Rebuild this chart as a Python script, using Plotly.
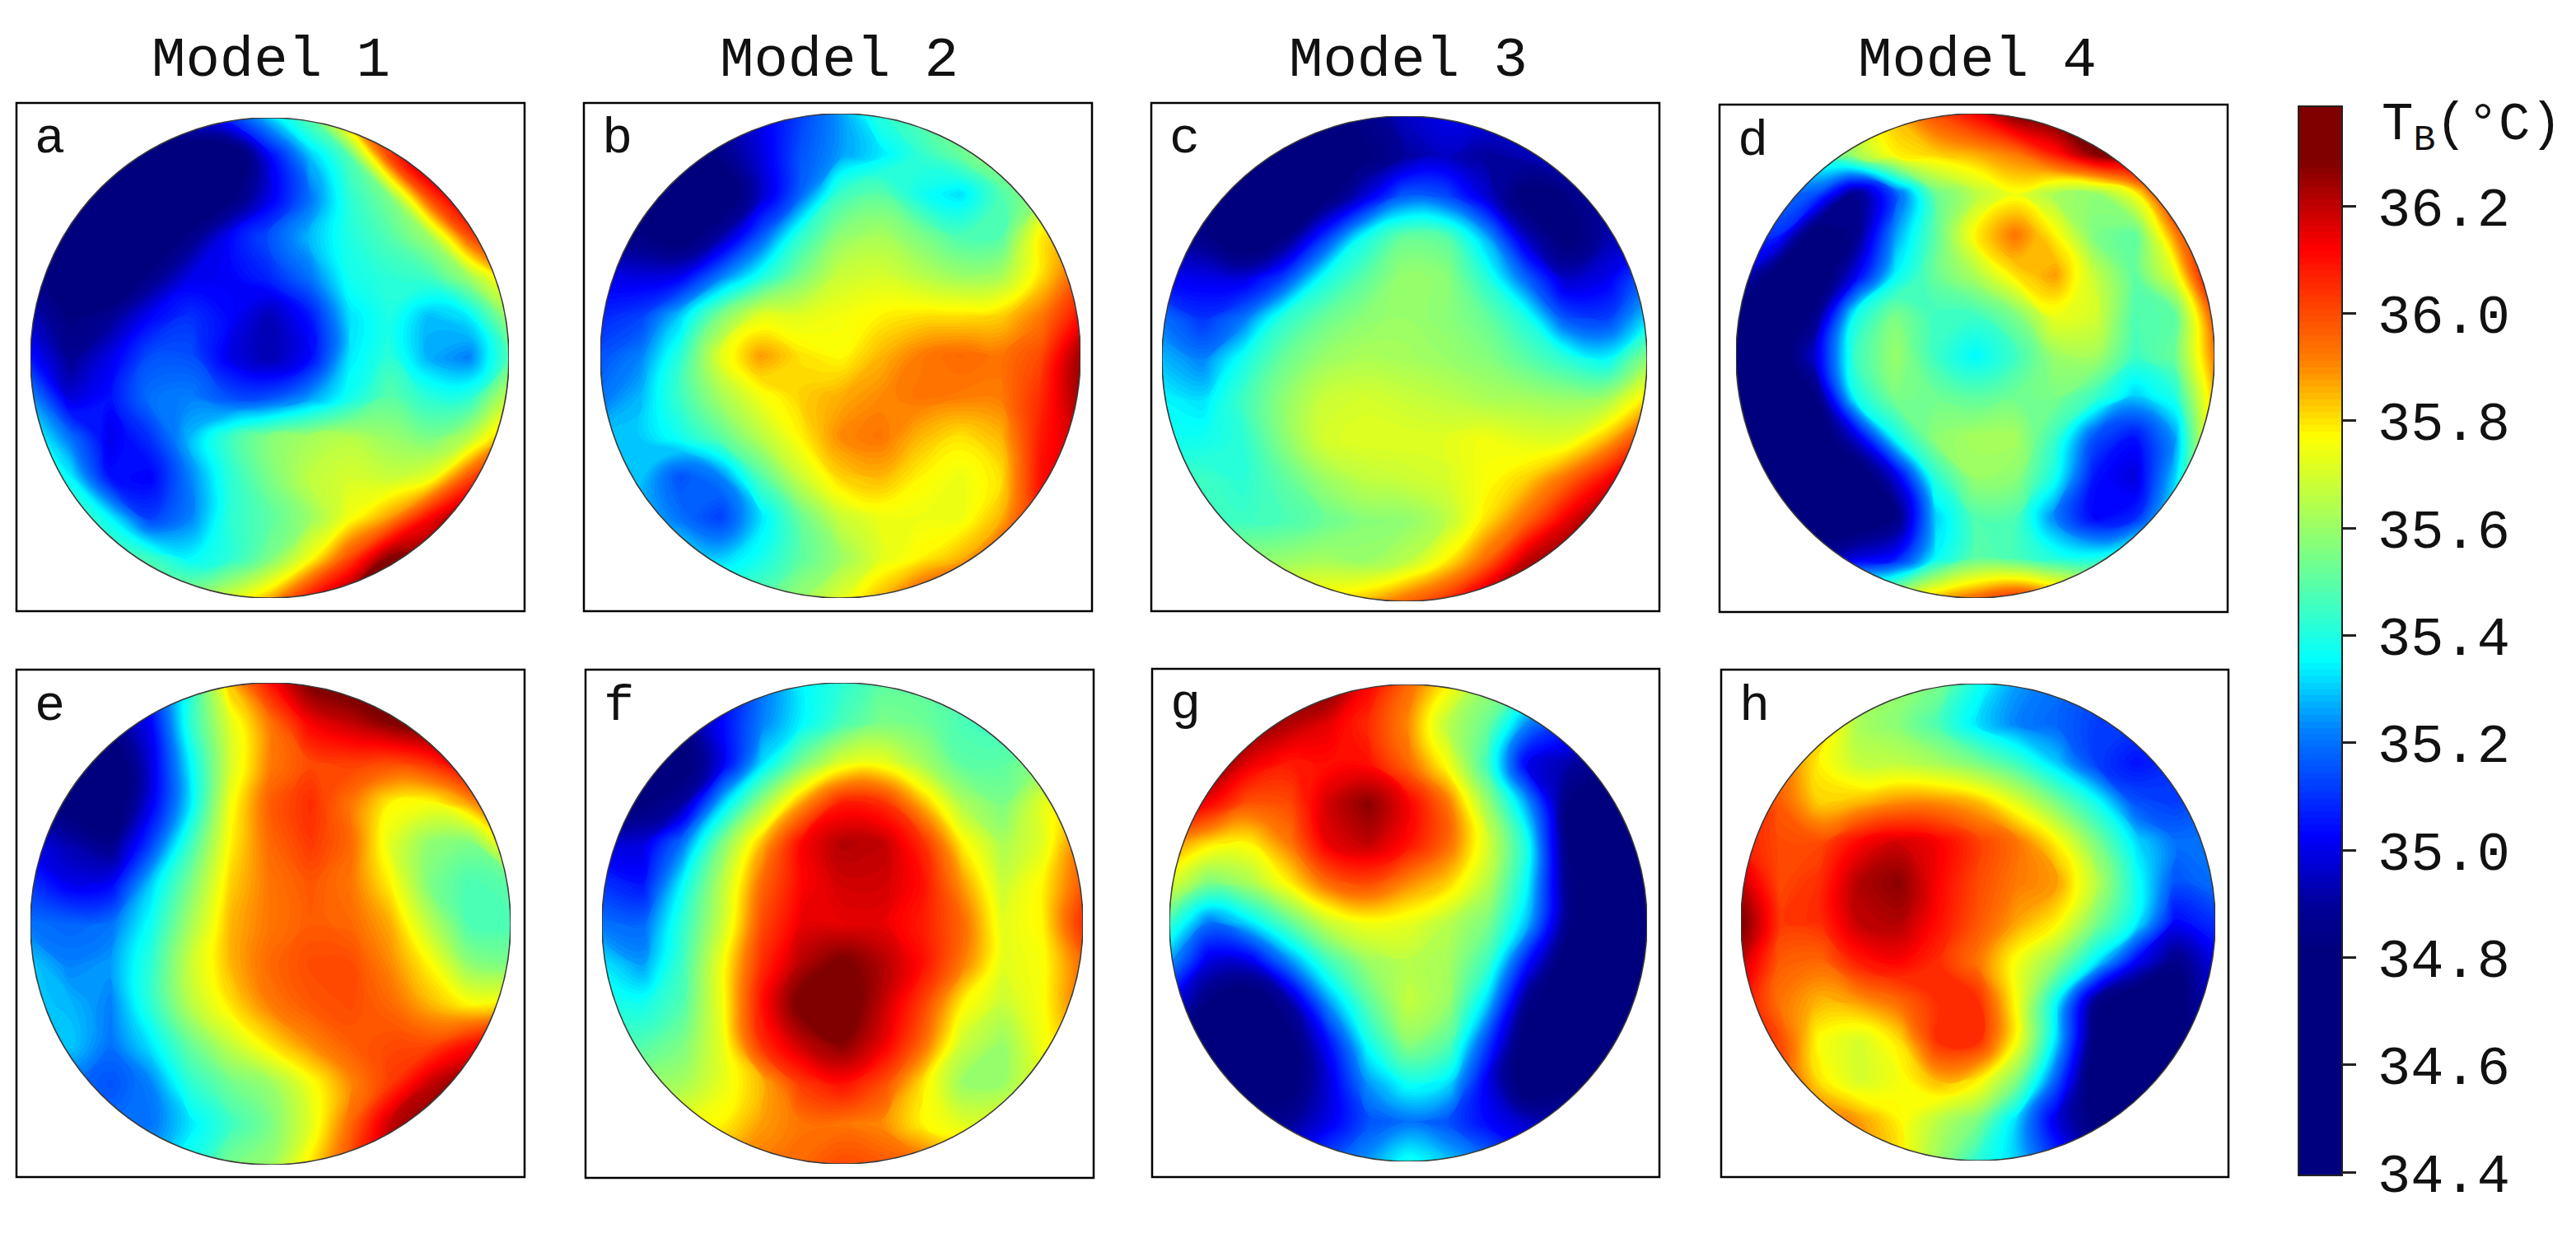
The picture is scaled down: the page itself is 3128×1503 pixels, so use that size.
import numpy as np
import plotly.graph_objects as go

W, H = 3128, 1503
MONO = "Liberation Mono, DejaVu Sans Mono, monospace"

panel_a = [
    [34.9,34.9,34.9,34.9,35.0,35.1,35.3,35.5,35.9,36.1,36.2,36.2,36.2],
    [34.7,34.7,34.7,34.75,34.7,34.7,35.02,35.28,35.48,36.0,36.3,36.3,36.3],
    [34.7,34.7,34.7,34.7,34.7,34.8,35.0,35.2,35.42,35.55,36.0,36.25,36.3],
    [34.75,34.8,34.7,34.7,34.85,35.03,35.15,35.28,35.4,35.48,35.6,35.98,36.2],
    [34.85,34.75,34.7,34.85,35.0,35.02,35.08,35.2,35.38,35.42,35.45,35.6,35.85],
    [34.95,34.82,34.88,35.03,35.1,35.03,34.93,35.05,35.32,35.4,35.28,35.33,35.6],
    [35.05,34.88,35.0,35.15,35.15,35.0,34.92,35.03,35.33,35.42,35.27,35.22,35.48],
    [35.25,34.98,35.05,35.2,35.22,35.15,35.15,35.25,35.38,35.5,35.42,35.42,35.68],
    [35.4,35.2,35.0,35.1,35.28,35.45,35.57,35.62,35.65,35.6,35.55,35.65,35.9],
    [35.5,35.35,35.05,35.02,35.22,35.42,35.55,35.66,35.7,35.68,35.73,36.0,36.2],
    [35.5,35.5,35.35,35.12,35.22,35.42,35.5,35.6,35.75,35.88,36.12,36.3,36.3],
    [35.5,35.5,35.5,35.45,35.35,35.42,35.55,35.75,36.0,36.28,36.3,36.3,36.3],
    [35.6,35.6,35.6,35.6,35.6,35.7,35.85,36.1,36.3,36.3,36.3,36.3,36.3],
]
panel_b = [
    [34.9,34.9,34.9,34.9,35.0,35.12,35.25,35.42,35.5,35.55,35.6,35.7,35.8],
    [34.8,34.8,34.8,34.85,34.98,35.15,35.25,35.33,35.43,35.52,35.6,35.7,35.8],
    [34.8,34.8,34.75,34.72,34.95,35.18,35.45,35.5,35.38,35.32,35.48,35.6,35.75],
    [34.85,34.82,34.75,34.9,35.15,35.42,35.58,35.62,35.55,35.47,35.48,35.78,35.9],
    [35.0,34.98,35.0,35.2,35.38,35.55,35.68,35.7,35.65,35.6,35.62,35.8,35.98],
    [35.08,35.12,35.3,35.55,35.72,35.72,35.75,35.78,35.8,35.8,35.82,35.92,36.1],
    [35.15,35.22,35.42,35.72,35.88,35.8,35.77,35.85,35.92,35.95,35.93,36.0,36.25],
    [35.2,35.28,35.45,35.62,35.75,35.82,35.86,35.9,35.93,35.92,35.92,36.05,36.25],
    [35.3,35.3,35.38,35.5,35.65,35.78,35.9,35.93,35.85,35.8,35.85,36.08,36.2],
    [35.3,35.3,35.15,35.22,35.48,35.68,35.82,35.85,35.78,35.74,35.8,36.1,36.2],
    [35.3,35.3,35.2,35.12,35.32,35.52,35.68,35.74,35.74,35.74,35.85,36.1,36.2],
    [35.35,35.35,35.35,35.3,35.38,35.5,35.6,35.72,35.78,35.85,36.0,36.1,36.2],
    [35.5,35.5,35.5,35.5,35.5,35.6,35.72,35.85,36.0,36.1,36.15,36.2,36.2],
]
panel_c = [
    [34.8,34.8,34.8,34.8,34.8,34.85,34.95,35.0,35.0,35.0,35.0,35.0,35.0],
    [34.8,34.8,34.8,34.78,34.72,34.8,34.9,34.95,34.9,34.93,35.0,35.0,35.0],
    [34.8,34.78,34.75,34.72,34.78,34.98,35.18,35.15,34.98,34.78,34.82,34.95,35.0],
    [34.9,34.85,34.72,34.82,35.1,35.38,35.52,35.5,35.28,34.95,34.78,34.92,35.02],
    [35.02,35.0,34.98,35.12,35.38,35.5,35.6,35.58,35.42,35.18,34.95,35.0,35.18],
    [35.2,35.1,35.2,35.42,35.52,35.58,35.6,35.58,35.52,35.4,35.15,35.12,35.32],
    [35.28,35.22,35.38,35.52,35.6,35.63,35.62,35.6,35.57,35.5,35.42,35.35,35.58],
    [35.35,35.32,35.45,35.58,35.68,35.7,35.68,35.66,35.63,35.62,35.6,35.62,35.8],
    [35.38,35.38,35.42,35.57,35.7,35.72,35.72,35.72,35.75,35.72,35.72,35.85,36.05],
    [35.45,35.45,35.42,35.5,35.6,35.66,35.68,35.7,35.76,35.82,35.95,36.12,36.25],
    [35.45,35.45,35.45,35.47,35.52,35.57,35.58,35.65,35.8,35.95,36.15,36.3,36.3],
    [35.6,35.6,35.6,35.6,35.62,35.6,35.65,35.78,35.95,36.2,36.3,36.3,36.3],
    [35.8,35.8,35.8,35.8,35.8,35.85,35.95,36.05,36.25,36.3,36.3,36.3,36.3],
]
panel_d = [
    [35.5,35.5,35.5,35.7,35.85,36.0,36.12,36.3,36.35,36.35,36.35,36.35,36.35],
    [35.4,35.4,35.45,35.62,35.78,35.82,35.86,35.92,36.08,36.28,36.35,36.35,36.35],
    [35.2,35.2,35.15,34.85,35.15,35.52,35.65,35.75,35.62,35.58,35.75,36.15,36.3],
    [35.1,35.1,34.75,34.85,35.25,35.5,35.78,35.93,35.78,35.55,35.5,35.9,36.2],
    [35.0,34.78,34.72,35.0,35.35,35.52,35.63,35.8,35.88,35.67,35.5,35.72,36.2],
    [34.8,34.72,34.85,35.38,35.55,35.45,35.45,35.55,35.74,35.7,35.48,35.5,36.0],
    [34.72,34.72,34.98,35.45,35.6,35.45,35.35,35.45,35.6,35.62,35.45,35.52,35.92],
    [34.72,34.72,34.82,35.38,35.55,35.53,35.5,35.53,35.55,35.45,35.3,35.4,35.85],
    [34.72,34.72,34.72,34.98,35.38,35.58,35.62,35.62,35.45,35.15,35.05,35.25,35.85],
    [34.72,34.72,34.72,34.72,34.98,35.42,35.6,35.58,35.38,35.05,34.98,35.3,35.85],
    [34.72,34.72,34.72,34.72,34.82,35.3,35.48,35.48,35.22,35.02,35.08,35.4,35.85],
    [34.9,34.9,34.9,34.98,35.05,35.35,35.5,35.47,35.4,35.38,35.5,35.7,35.9],
    [35.5,35.5,35.5,35.6,35.7,35.85,35.95,36.05,35.95,35.85,35.8,35.8,35.9],
]
panel_e = [
    [34.8,34.8,34.9,35.1,35.4,35.85,36.1,36.3,36.35,36.35,36.35,36.35,36.35],
    [34.8,34.8,34.85,35.02,35.42,35.72,35.93,36.13,36.2,36.28,36.35,36.35,36.35],
    [34.8,34.8,34.72,34.98,35.35,35.7,35.92,36.0,36.02,36.0,36.05,36.2,36.3],
    [34.85,34.78,34.72,35.0,35.33,35.75,35.97,36.05,35.93,35.78,35.76,35.88,36.1],
    [35.0,34.92,34.85,35.12,35.45,35.78,35.95,36.03,35.95,35.72,35.58,35.55,35.82],
    [35.1,35.0,35.02,35.3,35.55,35.82,35.93,35.98,35.93,35.78,35.55,35.47,35.5],
    [35.2,35.18,35.2,35.37,35.62,35.85,35.93,35.97,35.95,35.86,35.65,35.47,35.47],
    [35.3,35.22,35.25,35.42,35.68,35.85,35.95,36.0,36.0,35.9,35.77,35.58,35.55],
    [35.3,35.28,35.22,35.42,35.65,35.8,35.92,35.98,36.0,35.95,35.85,35.77,35.8],
    [35.3,35.3,35.2,35.33,35.52,35.67,35.8,35.9,35.97,36.0,36.0,36.1,36.2],
    [35.2,35.2,35.15,35.22,35.42,35.53,35.6,35.75,35.9,36.03,36.2,36.3,36.3],
    [35.2,35.2,35.2,35.2,35.33,35.45,35.55,35.72,35.95,36.2,36.3,36.3,36.3],
    [35.3,35.3,35.3,35.3,35.4,35.55,35.6,35.8,36.0,36.2,36.3,36.3,36.3],
]
panel_f = [
    [34.9,34.9,34.9,35.0,35.2,35.35,35.42,35.5,35.5,35.5,35.5,35.5,35.6],
    [34.8,34.8,34.85,35.03,35.22,35.35,35.47,35.55,35.53,35.47,35.45,35.5,35.6],
    [34.8,34.78,34.76,35.0,35.32,35.55,35.72,35.74,35.62,35.5,35.5,35.58,35.7],
    [34.82,34.8,34.9,35.3,35.6,35.88,36.08,36.05,35.85,35.63,35.55,35.72,35.85],
    [34.98,34.98,35.2,35.55,35.85,36.12,36.22,36.2,36.05,35.78,35.63,35.72,35.95],
    [35.1,35.05,35.35,35.65,35.95,36.12,36.18,36.18,36.1,35.88,35.68,35.78,35.98],
    [35.2,35.18,35.42,35.68,36.0,36.15,36.15,36.15,36.08,35.95,35.72,35.78,36.05],
    [35.33,35.25,35.45,35.75,36.05,36.22,36.3,36.22,36.1,35.92,35.72,35.76,35.95],
    [35.4,35.38,35.48,35.75,36.1,36.32,36.35,36.2,36.02,35.78,35.68,35.76,35.95],
    [35.5,35.48,35.55,35.73,36.05,36.2,36.28,36.15,35.95,35.68,35.6,35.75,35.9],
    [35.6,35.6,35.62,35.73,35.85,36.03,36.1,36.0,35.8,35.6,35.6,35.75,35.9],
    [35.75,35.75,35.75,35.78,35.88,35.93,35.93,35.9,35.78,35.72,35.75,35.85,35.9],
    [35.9,35.9,35.9,35.9,35.92,35.95,36.0,35.98,35.95,35.9,35.9,35.9,35.9],
]
panel_g = [
    [36.3,36.3,36.3,36.3,36.3,36.12,35.95,35.78,35.6,35.5,35.4,35.3,35.2],
    [36.3,36.3,36.3,36.22,36.15,36.05,35.9,35.65,35.52,35.22,35.1,35.0,35.0],
    [36.3,36.3,36.15,36.08,36.1,36.1,35.95,35.75,35.45,35.0,34.92,34.85,34.8],
    [36.2,36.12,35.98,36.0,36.18,36.27,36.13,35.93,35.6,35.25,34.82,34.72,34.72],
    [35.9,35.8,35.78,35.92,36.15,36.2,36.1,35.95,35.7,35.38,34.82,34.72,34.72],
    [35.72,35.55,35.62,35.78,35.95,36.0,35.9,35.82,35.65,35.35,34.85,34.72,34.72],
    [35.45,35.2,35.32,35.5,35.68,35.75,35.73,35.65,35.55,35.28,34.85,34.72,34.72],
    [35.25,34.98,34.98,35.22,35.45,35.6,35.65,35.62,35.45,35.05,34.75,34.72,34.72],
    [35.02,34.82,34.72,34.9,35.25,35.5,35.67,35.6,35.3,34.85,34.72,34.72,34.72],
    [34.85,34.8,34.72,34.78,35.05,35.38,35.58,35.5,35.12,34.75,34.72,34.8,34.8],
    [34.85,34.8,34.75,34.78,34.98,35.25,35.38,35.33,35.0,34.75,34.78,34.85,34.85],
    [34.9,34.9,34.88,34.88,35.0,35.15,35.2,35.15,35.03,34.95,34.95,34.95,34.95],
    [35.0,35.0,35.0,35.05,35.15,35.25,35.38,35.3,35.2,35.1,35.05,35.0,35.0],
]
panel_h = [
    [35.9,35.9,35.8,35.7,35.6,35.55,35.38,35.25,35.2,35.15,35.1,35.1,35.1],
    [35.9,35.9,35.85,35.62,35.57,35.47,35.32,35.22,35.18,35.12,35.12,35.12,35.12],
    [36.0,35.95,35.78,35.67,35.66,35.62,35.55,35.45,35.3,35.12,35.05,35.1,35.15],
    [36.1,35.97,35.82,35.85,35.9,35.9,35.85,35.72,35.55,35.38,35.15,35.12,35.18],
    [36.08,36.0,36.0,36.12,36.18,36.13,36.02,35.93,35.78,35.55,35.32,35.2,35.2],
    [36.2,36.0,36.05,36.22,36.27,36.12,36.0,35.92,35.88,35.65,35.38,35.15,35.2],
    [36.3,36.03,36.05,36.2,36.22,36.1,35.98,35.87,35.78,35.55,35.35,35.03,35.1],
    [36.2,35.97,35.95,36.08,36.12,36.05,35.93,35.75,35.58,35.33,35.02,34.85,35.0],
    [36.12,35.93,35.85,35.88,35.95,36.05,36.05,35.75,35.35,34.85,34.72,34.75,35.0],
    [36.1,36.0,35.76,35.7,35.8,36.05,36.05,35.75,35.3,34.78,34.72,34.75,35.0],
    [36.0,36.0,35.8,35.7,35.75,35.85,35.78,35.55,35.15,34.72,34.72,34.75,35.0],
    [35.95,35.95,35.95,35.88,35.78,35.65,35.55,35.3,34.98,34.8,34.8,34.85,35.0],
    [35.9,35.9,35.9,35.9,35.8,35.6,35.42,35.3,35.1,34.95,34.9,34.9,35.0],
]

letters = ["a", "b", "c", "d", "e", "f", "g", "h"]
panels = [panel_a, panel_b, panel_c, panel_d, panel_e, panel_f, panel_g, panel_h]
models = ["Model 1", "Model 2", "Model 3", "Model 4"]
model_x = [329, 1019, 1710, 2401]

# frame (x0, x1, y0, y1) and disc bounds in pixels
boxes = [
    (20, 637, 125, 742), (709, 1326, 125, 742), (1398, 2015, 125, 742), (2088, 2705, 127, 743),
    (20, 637, 813, 1429), (711, 1328, 813, 1430), (1399, 2015, 812, 1429), (2090, 2706, 813, 1429),
]
discs = [
    (37, 618, 143, 726), (729, 1312, 138, 726), (1411, 2000, 141, 730), (2108, 2689, 138, 726),
    (37, 620, 829, 1414), (731, 1315, 829, 1413), (1420, 2000, 831, 1410), (2114, 2690, 830, 1409),
]

grid = [-1, -5/6, -4/6, -3/6, -2/6, -1/6, 0, 1/6, 2/6, 3/6, 4/6, 5/6, 1]

cmin, cmax = 34.4, 36.384
color_vals = [34.4, 34.82, 34.9, 35.03, 35.225, 35.355, 35.56, 35.77, 35.91, 36.12, 36.28, 36.384]
color_hex = ["#00007f", "#00007f", "#000098", "#0000ff", "#0080ff", "#00ffff", "#80ff80",
             "#ffff00", "#ff8000", "#ff0000", "#800000", "#800000"]
colorscale = [[(v - cmin) / (cmax - cmin), c] for v, c in zip(color_vals, color_hex)]

ticks = [34.4, 34.6, 34.8, 35.0, 35.2, 35.4, 35.6, 35.8, 36.0, 36.2]
# small lead-in space, the labels sit a bit off the tick marks
tick_text = [f'<span style="font-size:22px">&nbsp;</span>{v:.1f}' for v in ticks]

fig = go.Figure()
shapes, annotations = [], []

# white mask with a round hole, so only the disc of each map shows
t = np.linspace(0, 2 * np.pi, 361)
hole = " ".join(f"L{np.cos(a):.4f},{np.sin(a):.4f}" for a in t)
mask = "M-1.1,-1.1 L1.1,-1.1 L1.1,1.1 L-1.1,1.1 Z M1,0 " + hole + " Z"

layout_axes = {}
for i, (z, letter, box, disc) in enumerate(zip(panels, letters, boxes, discs)):
    n = i + 1
    xname = "x" if n == 1 else f"x{n}"
    yname = "y" if n == 1 else f"y{n}"
    # smoothed filled contours, the maps are smooth in the reference
    fig.add_trace(go.Contour(
        z=z, x=grid, y=grid[::-1], coloraxis="coloraxis",
        autocontour=False,
        contours=dict(start=cmin, end=cmax, size=0.012, coloring="fill", showlines=False),
        line=dict(width=0, smoothing=1.3),
        xaxis=xname, yaxis=yname,
        hovertemplate="%{z:.2f} °C<extra></extra>",
    ))
    axis = dict(visible=False, range=[-1, 1], fixedrange=True)
    layout_axes["xaxis" if n == 1 else f"xaxis{n}"] = dict(
        axis, domain=[disc[0] / W, disc[1] / W], anchor=yname)
    layout_axes["yaxis" if n == 1 else f"yaxis{n}"] = dict(
        axis, domain=[1 - disc[3] / H, 1 - disc[2] / H], anchor=xname)

    shapes.append(dict(type="path", path=mask, xref=xname, yref=yname, fillcolor="white",
                       line=dict(width=0), layer="above"))
    shapes.append(dict(type="circle", x0=-1, x1=1, y0=-1, y1=1, xref=xname, yref=yname,
                       line=dict(color="#3a3a3a", width=1.6), layer="above"))
    shapes.append(dict(type="rect", xref="paper", yref="paper",
                       x0=box[0] / W, x1=box[1] / W, y0=1 - box[3] / H, y1=1 - box[2] / H,
                       line=dict(color="black", width=2.5), layer="above"))
    annotations.append(dict(text=letter, xref="paper", yref="paper", showarrow=False,
                            x=(box[0] + 20) / W, y=1 - (box[2] + 44) / H,
                            xanchor="left", yanchor="middle",
                            font=dict(family=MONO, size=62, color="#111")))

for name, mx in zip(models, model_x):
    annotations.append(dict(text=name, xref="paper", yref="paper", showarrow=False,
                            x=mx / W, y=1 - 74 / H, xanchor="center", yanchor="middle",
                            font=dict(family=MONO, size=69, color="#111")))

annotations.append(dict(text="T<sub>B</sub>(°C)", xref="paper", yref="paper", showarrow=False,
                        x=2890 / W, y=1 - 155 / H, xanchor="left", yanchor="middle",
                        font=dict(family=MONO, size=64, color="#111")))

fig.update_layout(
    width=W, height=H, margin=dict(l=0, r=0, t=0, b=0),
    paper_bgcolor="white", plot_bgcolor="white",
    shapes=shapes, annotations=annotations,
    coloraxis=dict(
        cmin=cmin, cmax=cmax, colorscale=colorscale,
        colorbar=dict(
            x=2791 / W, xanchor="left", y=1 - 1427 / H, yanchor="bottom",
            thicknessmode="pixels", thickness=53, lenmode="pixels", len=1298,
            xpad=0, ypad=0, outlinewidth=2, outlinecolor="#222",
            tickmode="array", tickvals=ticks, ticktext=tick_text,
            ticks="outside", ticklen=16, tickwidth=2.5, tickcolor="#222",
            tickfont=dict(family=MONO, size=67, color="#111"),
        ),
    ),
    **layout_axes,
)

# page margin would push the figure 8px off
fig.write_html("out.html", config=dict(displayModeBar=False),
               post_script="document.body.style.margin='0';")
